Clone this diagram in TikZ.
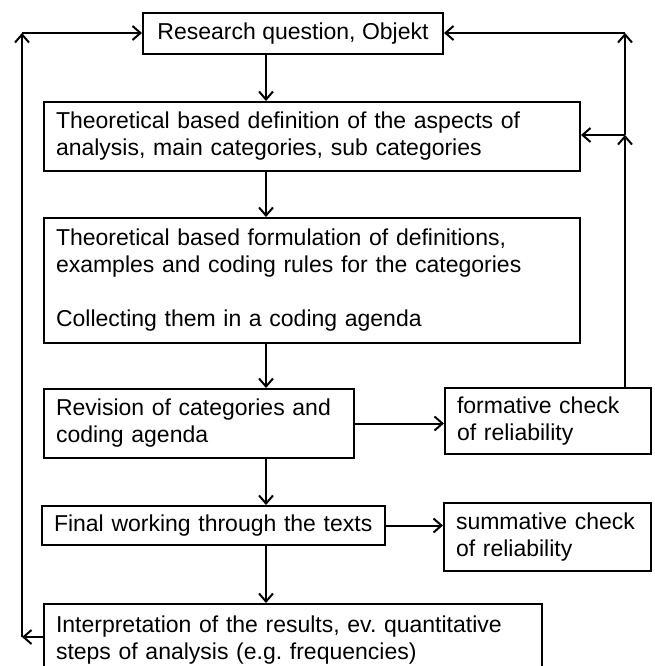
\documentclass[tikz,border=0pt]{standalone}
\usepackage{fontspec}
\setmainfont{Liberation Sans}
\usetikzlibrary{arrows.meta}
\frenchspacing
\tikzset{
  box/.style={draw, line width=2pt, anchor=north west, align=left, inner xsep=12pt, inner ysep=0pt, font=\fontsize{23}{27}\selectfont},
  arr/.style={line width=2pt, -{Straight Barb[length=8pt,width=14pt,line width=2pt]}}
}
\begin{document}
\begin{tikzpicture}[x=1pt,y=-1pt]
\clip (0,0) rectangle (654,666);
% main column
\node[box, minimum width=300pt, minimum height=41pt] (rq) at (142,12) {Research question, Objekt};
\node[box, text width=512pt, minimum height=69pt] (def) at (43,101) {Theoretical based definition of the aspects of\\ analysis, main categories, sub categories};
\node[box, text width=512pt, minimum height=125pt] (form) at (43,217) {Theoretical based formulation of definitions,\\ examples and coding rules for the categories\\[27pt] Collecting them in a coding agenda};
\node[box, text width=286pt, minimum height=69pt] (rev) at (43,388) {Revision of categories and\\ coding agenda};
\node[box, text width=319pt, minimum height=39pt] (final) at (41,505) {Final working through the texts};
\node[box, text width=474pt, minimum height=73pt] (interp) at (43,603) {Interpretation of the results, ev. quantitative\\ steps of analysis (e.g. frequencies)};
% checks
\node[box, text width=182pt, minimum height=66pt] (formative) at (444,387) {formative check\\ of reliability};
\node[box, text width=183pt, minimum height=68pt] (summative) at (443,502) {summative check\\ of reliability};

\coordinate (col) at (266,0);
\coordinate (lt) at (22,33);
\coordinate (lb) at (22,637);
\coordinate (rt) at (625,33);
\coordinate (rm) at (625,135);

\draw[arr] (rq.south -| col) -- (def.north -| col);
\draw[arr] (def.south -| col) -- (form.north -| col);
\draw[arr] (form.south -| col) -- (rev.north -| col);
\draw[arr] (rev.south -| col) -- (final.north -| col);
\draw[arr] (final.south -| col) -- (interp.north -| col);

\draw[arr] (rev.east) -- (rev.east -| formative.west);
\draw[arr] (final.east) -- (final.east -| summative.west);

% feedback loops
\draw[arr] (interp.west |- lb) -- (lb);
\draw[arr] (lb) -- (lt);
\draw[arr] (lt) -- (rq.west |- lt);
\draw[arr] (formative.north -| rm) -- (rm);
\draw[arr] (rm) -- (rt);
\draw[arr] (rt) -- (rq.east |- rt);
\draw[arr] (rm) -- (def.east |- rm);
\end{tikzpicture}
\end{document}
